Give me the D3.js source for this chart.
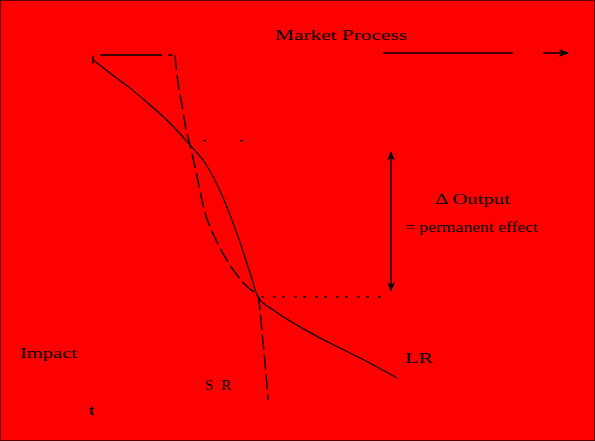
<!DOCTYPE html>
<html>
<head>
<meta charset="utf-8">
<script src="https://cdn.jsdelivr.net/npm/d3@7"></script>
<style>
  body { margin: 0; background: #ff0000; }
  text { font-family: "Liberation Serif", "DejaVu Serif", serif; fill: #000; }
</style>
</head>
<body>
<div id="chart"></div>
<script>
// values, in chart units (t along x, level along y)
var gradualT = [0, 0.40, 0.88, 1.36, 1.83, 2.31, 2.67, 3.12, 3.48, 3.74, 3.93, 4.33, 4.93, 5.64, 6.36, 7.24];
var gradualV = [9.86, 9.48, 9.04, 8.55, 8.03, 7.39, 6.87, 5.80, 4.64, 3.68, 2.99, 2.58, 2.12, 1.65, 1.22, 0.64];

var steepT = [1.95, 2.02, 2.12, 2.21, 2.31, 2.43, 2.67, 2.93, 3.29, 3.67, 3.93, 4.02, 4.10, 4.17];
var steepV = [10.0, 9.22, 8.55, 7.88, 7.39, 6.75, 5.42, 4.64, 3.86, 3.28, 2.99, 2.03, 1.01, 0];

var capT = [0.17, 1.95];
var capV = [10.0, 10.0];

var levels = [7.52, 2.99];

var titleLabel = "Market Process",
  gapLabel = ["Δ Output", "= permanent effect"],
  leftLabel = "Impact",
  gradualLabel = "LR",
  steepLabel = "SR",
  axisLabel = "t";

var svg_dx = 595,
  svg_dy = 441;

var x = d3.scaleLinear().domain([0, 10]).range([93, 513]),
  y = d3.scaleLinear().domain([0, 10]).range([400, 55]);

var svg = d3.select("#chart")
  .append("svg")
  .attr("width", svg_dx)
  .attr("height", svg_dy);

svg.append("rect")
  .attr("x", 0.5).attr("y", 0.5)
  .attr("width", svg_dx - 1).attr("height", svg_dy - 1)
  .attr("fill", "#ff0000")
  .attr("stroke", "#5a0000")
  .attr("stroke-width", 1);

var defs = svg.append("defs");
defs.append("marker")
  .attr("id", "head")
  .attr("viewBox", "0 0 10 10")
  .attr("refX", 9).attr("refY", 5)
  .attr("markerWidth", 7).attr("markerHeight", 7)
  .attr("orient", "auto-start-reverse")
  .append("path")
  .attr("d", "M0,1 L10,5 L0,9 L3,5 Z")
  .attr("fill", "#000");

var line = d3.line()
  .curve(d3.curveMonotoneX)
  .x(function(d) { return x(d[0]); })
  .y(function(d) { return y(d[1]); });

function pairs(a, b) {
  return a.map(function(v, i) { return [v, b[i]]; });
}

// gradual adjustment curve
svg.append("path")
  .datum(pairs(gradualT, gradualV))
  .attr("d", line)
  .attr("fill", "none")
  .attr("stroke", "#000")
  .attr("stroke-width", 1.2);

// small tick at the start of the gradual curve
svg.append("line")
  .attr("x1", x(gradualT[0])).attr("x2", x(gradualT[0]))
  .attr("y1", y(gradualV[0]) - 4).attr("y2", y(gradualV[0]) + 4)
  .attr("stroke", "#000").attr("stroke-width", 1.3);

// flat cap, then the steep dashed curve
svg.append("path")
  .datum(pairs(capT, capV))
  .attr("d", d3.line().x(function(d) { return x(d[0]); }).y(function(d) { return y(d[1]); }))
  .attr("fill", "none")
  .attr("stroke", "#000")
  .attr("stroke-width", 1.5)
  .attr("stroke-dasharray", "62,6,4,6");

svg.append("path")
  .datum(pairs(steepT, steepV))
  .attr("d", line)
  .attr("fill", "none")
  .attr("stroke", "#000")
  .attr("stroke-width", 1.4)
  .attr("stroke-dasharray", "15,5");

// dotted guide lines at the two crossings
svg.append("line")
  .attr("x1", x(2.62)).attr("x2", x(3.6))
  .attr("y1", y(levels[0])).attr("y2", y(levels[0]))
  .attr("stroke", "#000").attr("stroke-width", 1.2)
  .attr("stroke-dasharray", "3,34");

svg.append("line")
  .attr("x1", x(4.0)).attr("x2", x(7.0))
  .attr("y1", y(levels[1])).attr("y2", y(levels[1]))
  .attr("stroke", "#000").attr("stroke-width", 1.2)
  .attr("stroke-dasharray", "3,9,3,6");

// double arrow showing the gap
svg.append("line")
  .attr("x1", 391).attr("x2", 391)
  .attr("y1", y(levels[1]) - 6).attr("y2", 152)
  .attr("stroke", "#000").attr("stroke-width", 1.4)
  .attr("marker-start", "url(#head)")
  .attr("marker-end", "url(#head)");

// title with its arrow
svg.append("text")
  .attr("x", 275).attr("y", 40)
  .attr("font-size", 15)
  .attr("textLength", 132).attr("lengthAdjust", "spacingAndGlyphs")
  .text(titleLabel);

svg.append("line")
  .attr("x1", 383).attr("x2", 513)
  .attr("y1", 53).attr("y2", 53)
  .attr("stroke", "#000").attr("stroke-width", 1.5);

svg.append("line")
  .attr("x1", 543).attr("x2", 568)
  .attr("y1", 53).attr("y2", 53)
  .attr("stroke", "#000").attr("stroke-width", 1.5)
  .attr("marker-end", "url(#head)");

// labels
svg.append("text")
  .attr("x", 435).attr("y", 204)
  .attr("font-size", 15)
  .attr("textLength", 75).attr("lengthAdjust", "spacingAndGlyphs")
  .text(gapLabel[0]);

svg.append("text")
  .attr("x", 405).attr("y", 232)
  .attr("font-size", 15)
  .attr("textLength", 133).attr("lengthAdjust", "spacingAndGlyphs")
  .text(gapLabel[1]);

svg.append("text")
  .attr("x", 20).attr("y", 358)
  .attr("font-size", 15)
  .attr("textLength", 57).attr("lengthAdjust", "spacingAndGlyphs")
  .text(leftLabel);

svg.append("text")
  .attr("x", 405).attr("y", 363)
  .attr("font-size", 15)
  .attr("textLength", 28).attr("lengthAdjust", "spacingAndGlyphs")
  .text(gradualLabel);

svg.append("text")
  .attr("x", 205).attr("y", 390)
  .attr("font-size", 15)
  .attr("letter-spacing", 8)
  .text(steepLabel);

svg.append("text")
  .attr("x", 89).attr("y", 415)
  .attr("font-size", 15)
  .attr("font-weight", "bold")
  .text(axisLabel);
</script>
</body>
</html>
